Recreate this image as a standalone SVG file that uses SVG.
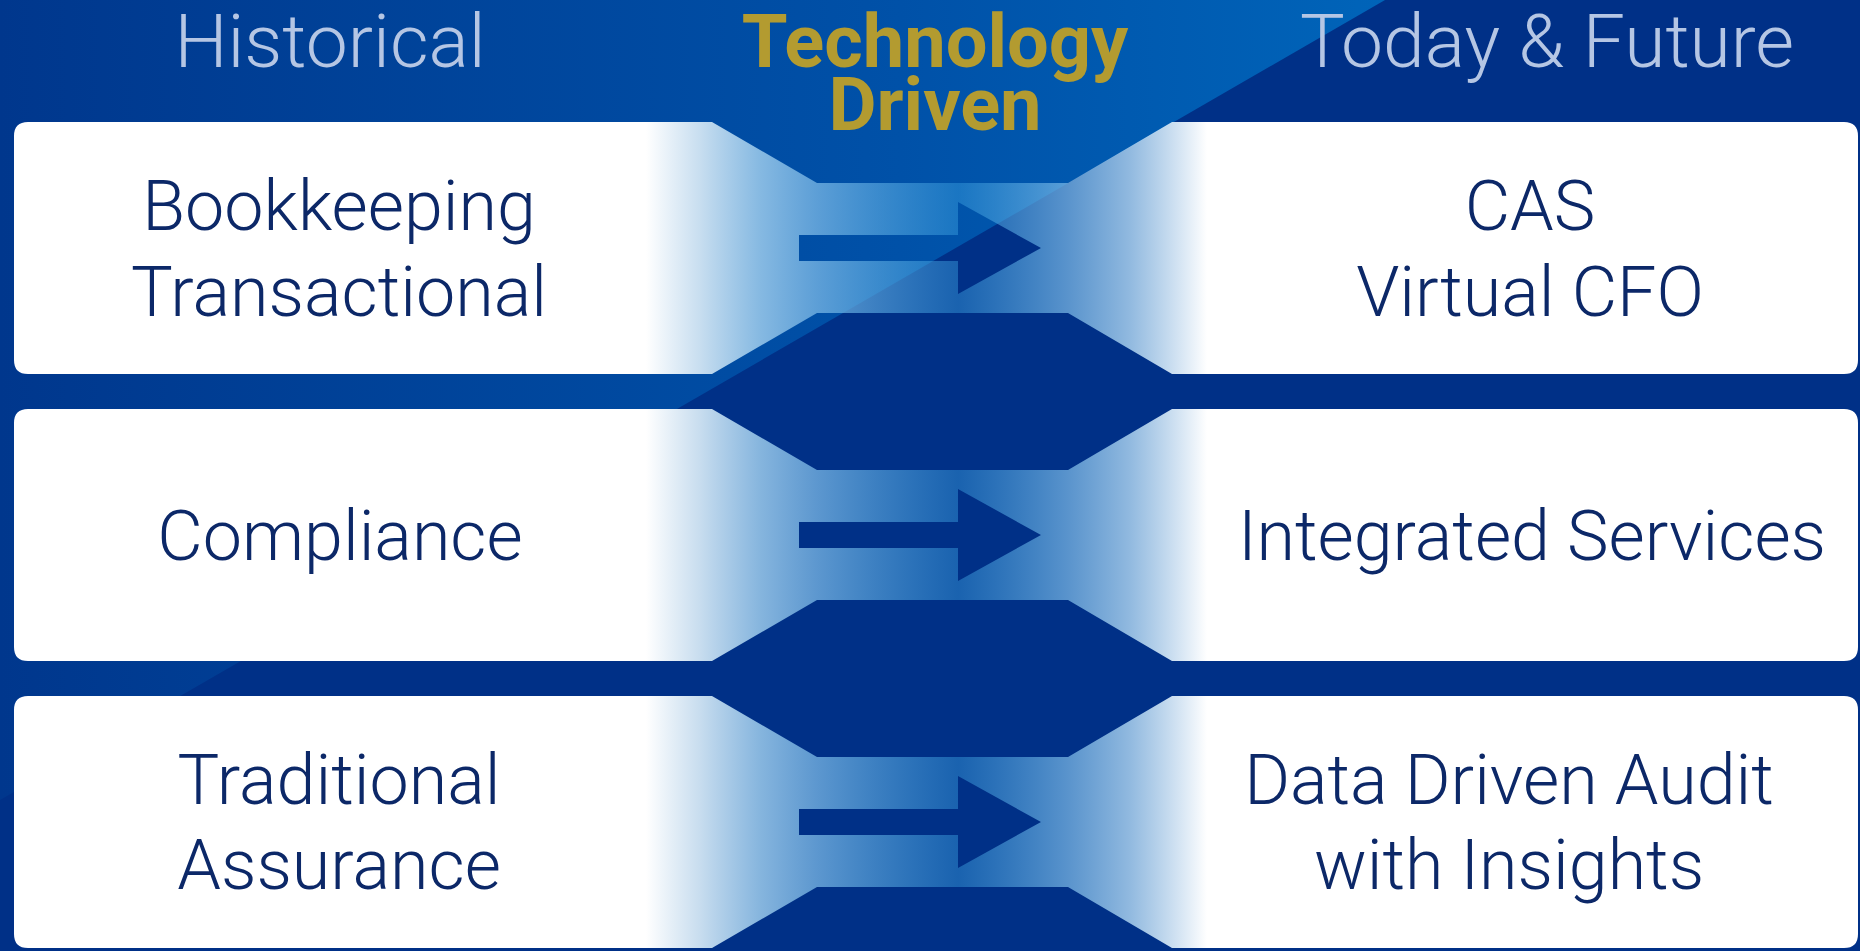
<svg xmlns="http://www.w3.org/2000/svg" width="1860" height="951" viewBox="0 0 1860 951">
<defs>
<linearGradient id="bgLight" gradientUnits="userSpaceOnUse" x1="0" y1="0" x2="1385" y2="0">
<stop offset="0" stop-color="#00378d"/>
<stop offset="0.65" stop-color="#0051a8"/>
<stop offset="1" stop-color="#0064b9"/>
</linearGradient>
<linearGradient id="band" gradientUnits="userSpaceOnUse" x1="0" y1="0" x2="1860" y2="0">
<stop offset="0.3473" stop-color="#ffffff" stop-opacity="1"/>
<stop offset="0.3763" stop-color="#d0e4f3" stop-opacity="0.96"/>
<stop offset="0.4086" stop-color="#9ccbec" stop-opacity="0.86"/>
<stop offset="0.4392" stop-color="#7ab8e6" stop-opacity="0.76"/>
<stop offset="0.5151" stop-color="#3aa0e0" stop-opacity="0.45"/>
<stop offset="0.5737" stop-color="#7ab8e6" stop-opacity="0.73"/>
<stop offset="0.6075" stop-color="#a9d0ee" stop-opacity="0.86"/>
<stop offset="0.6489" stop-color="#ffffff" stop-opacity="1"/>
</linearGradient>
</defs>
<style>
.hdr{font-family:Roboto,"Liberation Sans",sans-serif;font-weight:300;font-size:75px;fill:#b5c6e4;text-anchor:middle}
.gold{font-family:Roboto,"Liberation Sans",sans-serif;font-weight:700;font-size:74px;fill:#b39b30;text-anchor:middle}
.lbl{font-family:Roboto,"Liberation Sans",sans-serif;font-weight:300;font-size:70px;fill:#0c2868;text-anchor:middle}
.row{fill:url(#band);fill-rule:evenodd}
</style>
<rect x="0" y="0" width="1860" height="951" fill="#003087"/>
<path d="M0,0 L1385,0 L0,800 Z" fill="url(#bgLight)"/>
<g id="headers">
<text class="hdr" x="330" y="67">Historical</text>
<text class="gold" x="935" y="67">Technology</text>
<text class="gold" x="935" y="130">Driven</text>
<text class="hdr" x="1547" y="67">Today &amp; Future</text>
</g>
<g id="connectors">
<path class="row" d="M28,122 L712,122 L817,183 L1068,183 L1172,122 L1844,122 Q1858,122 1858,136 L1858,360 Q1858,374 1844,374 L1172,374 L1068,313 L817,313 L712,374 L28,374 Q14,374 14,360 L14,136 Q14,122 28,122 Z M799,235 L958,235 L958,202 L1041,248 L958,294 L958,261 L799,261 Z"/>
<path class="row" d="M28,409 L712,409 L817,470 L1068,470 L1172,409 L1844,409 Q1858,409 1858,423 L1858,647 Q1858,661 1844,661 L1172,661 L1068,600 L817,600 L712,661 L28,661 Q14,661 14,647 L14,423 Q14,409 28,409 Z M799,522 L958,522 L958,489 L1041,535 L958,581 L958,548 L799,548 Z"/>
<path class="row" d="M28,696 L712,696 L817,757 L1068,757 L1172,696 L1844,696 Q1858,696 1858,710 L1858,934 Q1858,948 1844,948 L1172,948 L1068,887 L817,887 L712,948 L28,948 Q14,948 14,934 L14,710 Q14,696 28,696 Z M799,809 L958,809 L958,776 L1041,822 L958,868 L958,835 L799,835 Z"/>
</g>
<g id="node-bookkeeping">
<text class="lbl" x="339" y="230">Bookkeeping</text>
<text class="lbl" x="339" y="316">Transactional</text>
</g>
<g id="node-cas">
<text class="lbl" x="1530" y="230">CAS</text>
<text class="lbl" x="1530" y="316">Virtual CFO</text>
</g>
<g id="node-compliance">
<text class="lbl" x="340" y="560">Compliance</text>
</g>
<g id="node-integrated">
<text class="lbl" x="1532" y="560">Integrated Services</text>
</g>
<g id="node-assurance">
<text class="lbl" x="339" y="804">Traditional</text>
<text class="lbl" x="339" y="889">Assurance</text>
</g>
<g id="node-audit">
<text class="lbl" x="1509" y="804">Data Driven Audit</text>
<text class="lbl" x="1509" y="889">with Insights</text>
</g>
</svg>
